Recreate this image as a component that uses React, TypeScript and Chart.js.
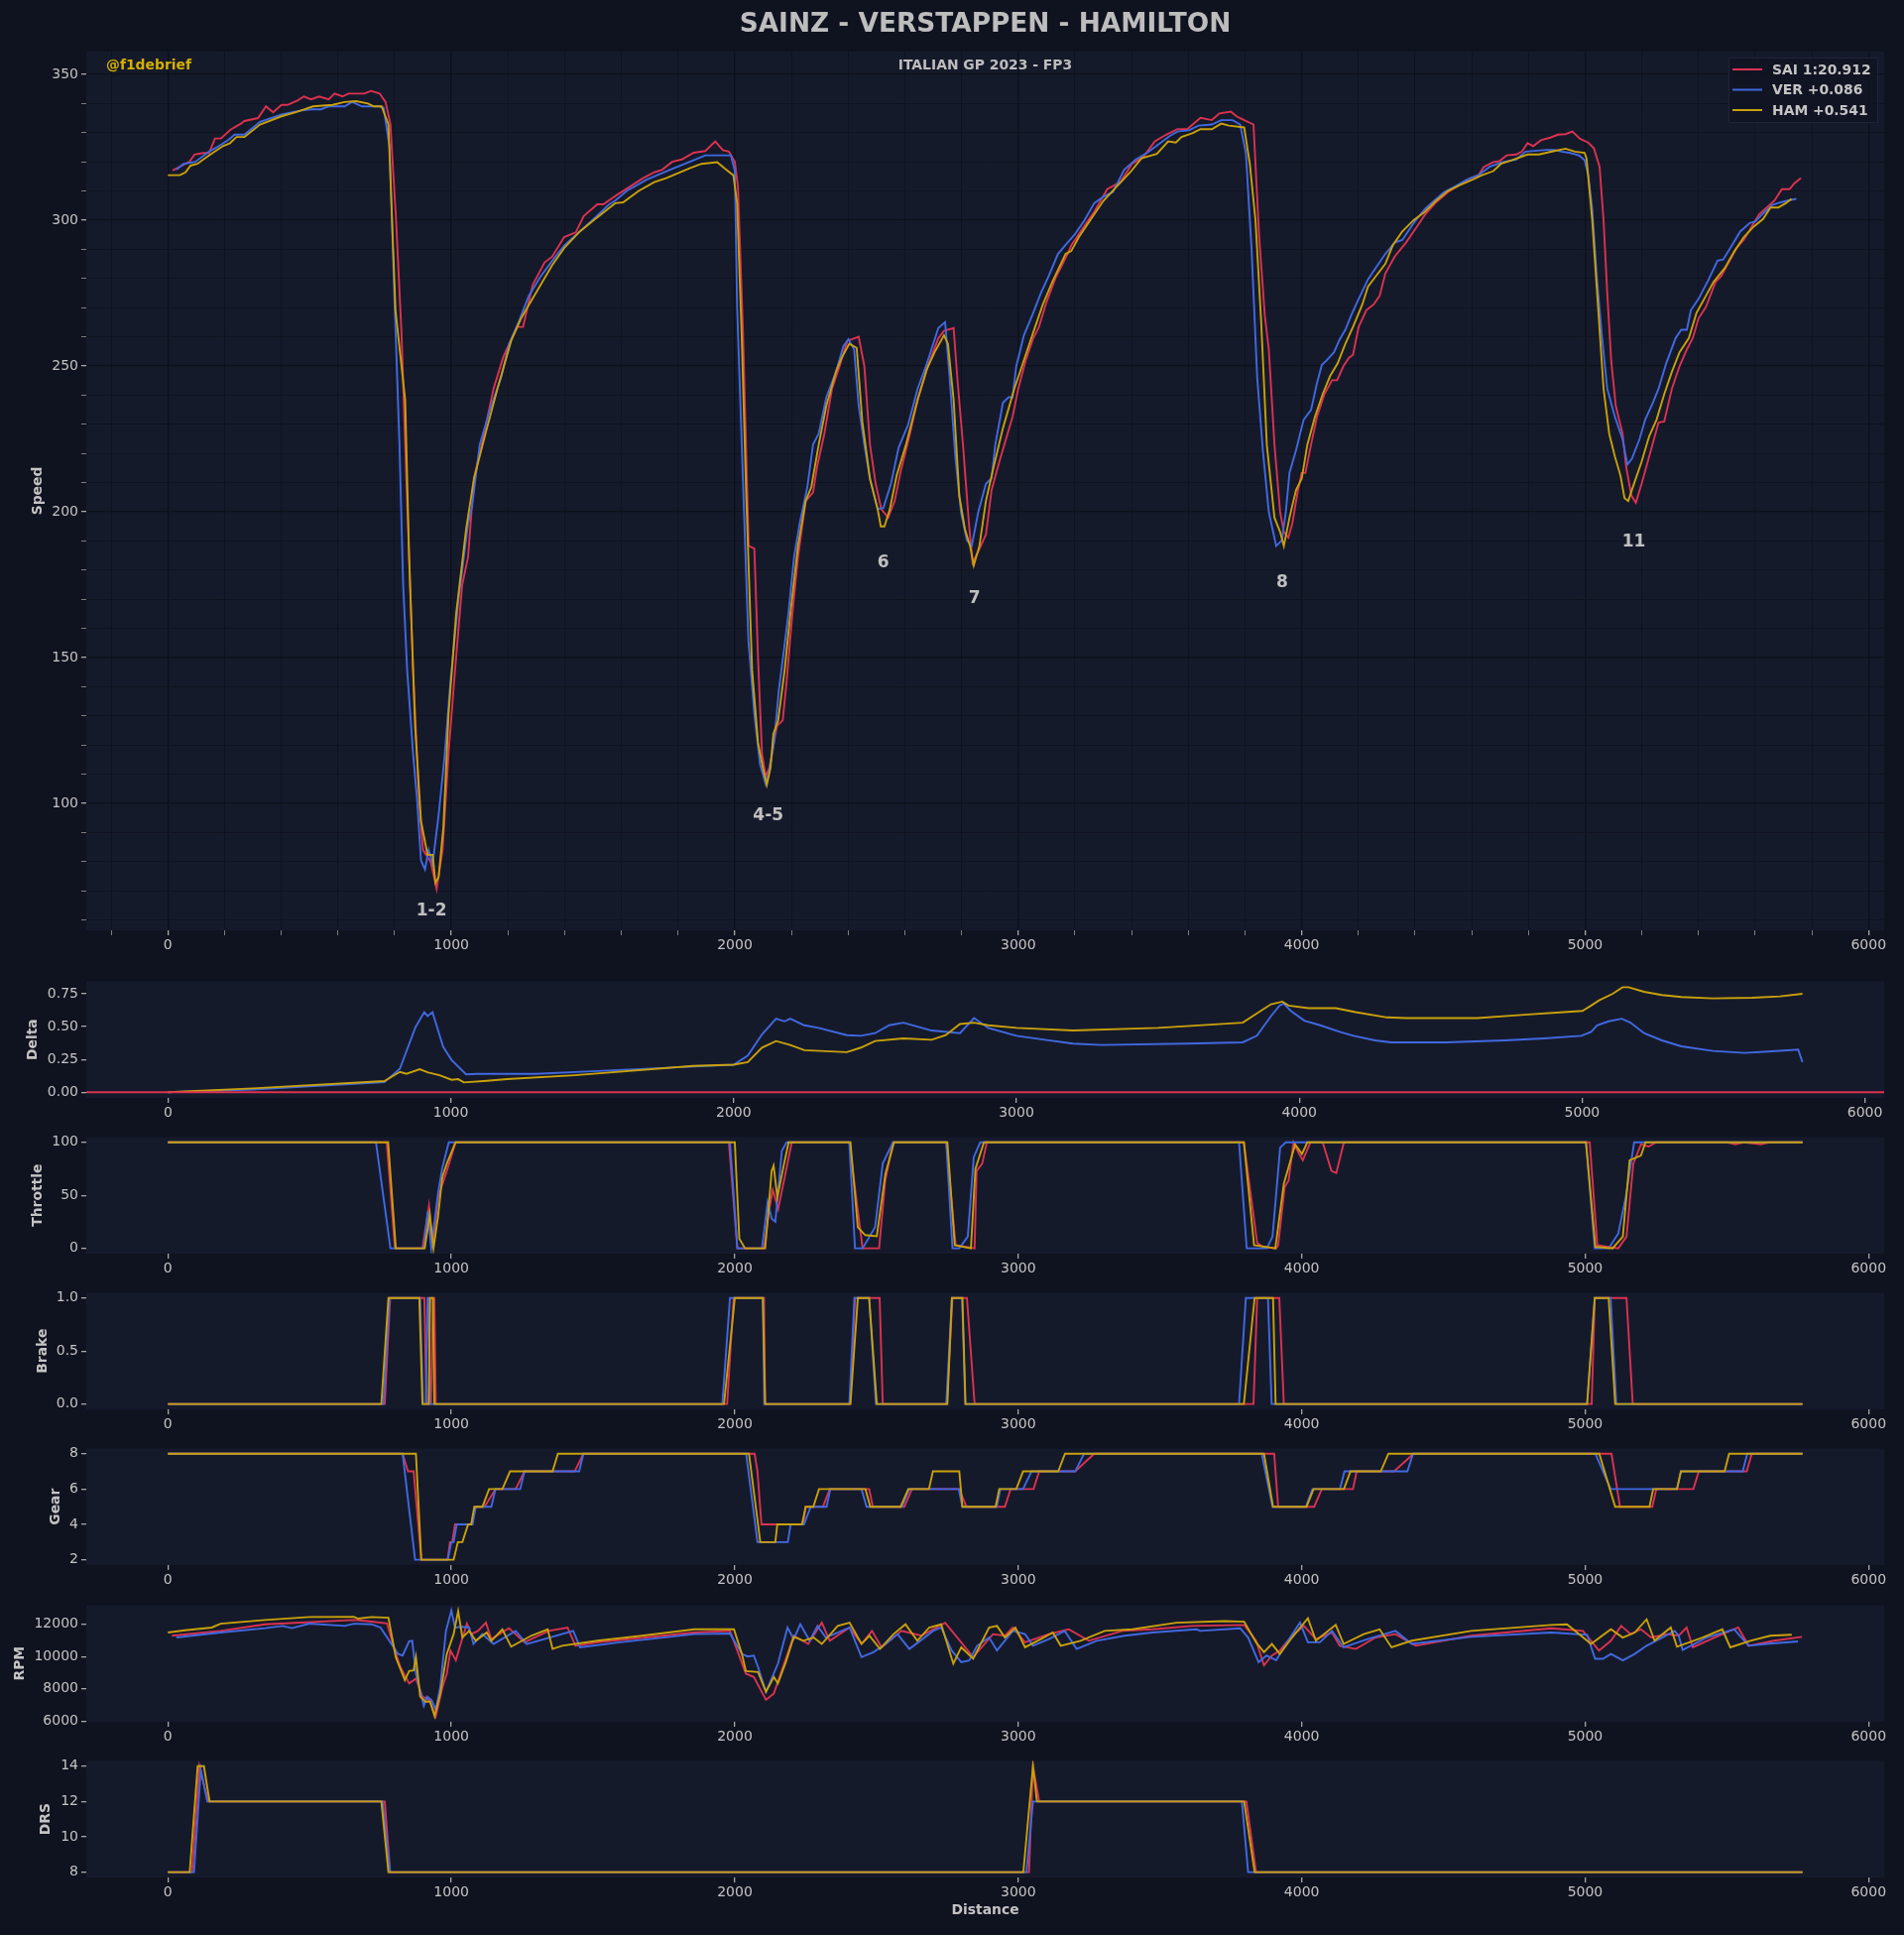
import React, { useEffect, useRef } from 'react';
import { Chart, registerables } from 'chart.js';

Chart.register(...registerables);

type Pt = [number, number];

// ---------------- data ----------------
const DRIVERS = ['SAI', 'VER', 'HAM'];
const LEGEND_LABELS = ['SAI 1:20.912', 'VER +0.086', 'HAM +0.541'];
const COLORS = ['#dc3250', '#4169e1', '#c9a10a'];

const CORNER_LABELS = ['1-2', '4-5', '6', '7', '8', '11'];
const CORNER_DIST = [930, 2118, 2524, 2846, 3931, 5172];
const CORNER_SPEED = [63, 95.8, 182.5, 170.3, 175.7, 189.6];

const X_MAJOR_TICKS = [0, 1000, 2000, 3000, 4000, 5000, 6000];
const SPEED_TICKS = [100, 150, 200, 250, 300, 350];
const DELTA_TICKS = [0, 0.25, 0.5, 0.75];
const THROTTLE_TICKS = [0, 50, 100];
const BRAKE_TICKS = [0, 0.5, 1];
const GEAR_TICKS = [2, 4, 6, 8];
const RPM_TICKS = [6000, 8000, 10000, 12000];
const DRS_TICKS = [8, 10, 12, 14];

const SAI_SPEED: Pt[] = [[17,317],[76,320],[94,322.5],[125,323],[145,323],[166,328],[187,328],[221,331],[256,333],[270,334],[318,335],[346,339],[371,337],[401,339.5],[422,339.5],[457,341],[480,342.4],[505,341.4],[533,342.4],[567,341.4],[588,343.4],[616,342.4],[637,343.4],[692,343.4],[717,344.3],[747,343.4],[768,340.5],[785,332.8],[805,300],[824,261.5],[844,203.6],[865,145.8],[886,101.5],[900,84],[927,80],[948,70.7],[969,84],[990,117],[1010,142],[1038,174.8],[1059,184.5],[1080,211.5],[1107,223],[1149,242.3],[1183,253],[1204,257.6],[1232,263.4],[1253,263.4],[1287,277.8],[1329,285.5],[1356,287.5],[1398,294.2],[1439,295.8],[1467,301.4],[1515,305.4],[1536,305.4],[1585,308.7],[1640,312.1],[1675,314.3],[1716,316.4],[1744,317.3],[1779,320],[1813,320.8],[1855,323.1],[1896,323.7],[1931,327],[1958,324],[1979,323.5],[2000,320],[2011,311.6],[2029,261.5],[2049,188.3],[2069,187.4],[2082,149.7],[2096,117],[2109,109.3],[2122,112.2],[2136,119.9],[2149,126.6],[2169,128.5],[2183,142],[2203,165],[2223,184.5],[2250,203.7],[2276,206.6],[2290,215.3],[2316,226.8],[2343,242.2],[2370,250],[2397,258.6],[2437,260],[2457,250],[2477,223],[2497,209.6],[2517,200.9],[2541,198],[2564,203.7],[2584,213.3],[2618,226.8],[2645,238.4],[2678,249],[2718,259.5],[2738,262],[2772,263],[2785,246],[2805,223],[2826,196],[2839,182.5],[2859,186.4],[2886,192.2],[2906,207.5],[2933,217.1],[2980,232.6],[3000,242.2],[3026,251.8],[3053,259.5],[3073,263.4],[3100,272],[3134,280.7],[3174,288.4],[3187,291.3],[3227,297.1],[3268,302.9],[3314,310.6],[3361,313.1],[3401,319.3],[3441,321.6],[3482,327],[3522,329.3],[3562,331.2],[3596,331.2],[3643,335.1],[3683,334.3],[3710,336.6],[3750,337.2],[3770,335.6],[3797,334.3],[3830,332.8],[3850,294.2],[3870,267.2],[3884,255.7],[3904,223],[3924,199.9],[3937,193.1],[3953,191.2],[3967,196],[3987,207.5],[4000,213.3],[4013,213.3],[4033,223],[4054,232.6],[4080,240.3],[4107,245.1],[4125,245.1],[4147,249.9],[4167,252.8],[4181,253.8],[4201,263.4],[4228,269.1],[4254,271.1],[4275,274],[4295,281.7],[4328,287.5],[4368,292.3],[4409,298.1],[4435,301.9],[4475,306.2],[4516,309.6],[4556,312.1],[4596,314.4],[4623,315.4],[4643,318.3],[4676,319.9],[4697,320.2],[4723,322.2],[4757,322.5],[4777,323.5],[4797,326.4],[4817,325.4],[4844,327.4],[4877,328.3],[4904,329.3],[4931,329.5],[4955,330.4],[4982,327.9],[5011,326.6],[5031,324.6],[5051,318.3],[5065,300],[5078,275],[5092,251.8],[5108,236.4],[5132,226.8],[5145,215.3],[5163,205.6],[5179,203.1],[5199,209.5],[5226,219],[5259,230.6],[5279,231],[5306,242.2],[5333,249.9],[5359,255.7],[5380,259.6],[5400,266.3],[5426,270.2],[5460,278.8],[5480,280.8],[5507,285.6],[5534,290.4],[5560,293.3],[5587,297.7],[5614,302],[5641,304.3],[5668,306.7],[5694,310.6],[5721,310.6],[5737,312.5],[5761,314.4]];

const VER_SPEED: Pt[] = [[30,317.3],[55,319.3],[97,320],[145,323.5],[173,325],[215,327.6],[235,329.3],[270,329.3],[325,333.7],[401,336.2],[464,337.5],[505,338],[540,338],[567,339],[623,339],[650,340.5],[685,339],[747,339],[761,338.5],[782,325],[800,271],[817,223],[830,174.8],[844,145.8],[865,117],[879,101.5],[893,80.4],[907,77.4],[920,84],[934,79.3],[955,96],[976,116],[997,142],[1024,169],[1059,196],[1073,201.8],[1100,223],[1135,234.6],[1176,246.3],[1204,257.6],[1239,265.4],[1273,274],[1315,280.7],[1356,286.1],[1398,291.3],[1453,296.1],[1509,301],[1557,305.4],[1578,306.7],[1619,310],[1689,313.9],[1772,317.3],[1841,320],[1896,322.2],[1986,322.2],[2000,317],[2008,271],[2028,213],[2048,155.8],[2069,130.7],[2089,113.4],[2109,106.6],[2122,111.5],[2139,121.2],[2155,138.5],[2175,153.9],[2189,165],[2209,184.4],[2229,196],[2256,208.5],[2276,223],[2296,226.8],[2323,239.3],[2357,248],[2383,256.7],[2401,259.2],[2421,255.7],[2437,236.4],[2457,223],[2477,211.3],[2504,200.9],[2524,201.3],[2551,209.6],[2578,222],[2611,229.7],[2645,242.2],[2678,250.9],[2718,263],[2742,265],[2758,246],[2778,219],[2798,199.9],[2819,190.2],[2836,188.3],[2859,199.9],[2886,209.6],[2906,211.5],[2919,223],[2946,237.4],[2966,239.3],[2980,239.3],[2993,249.9],[3020,260.5],[3053,268.2],[3080,275],[3107,280.7],[3140,288.4],[3174,292.3],[3200,295.2],[3234,300],[3268,305.8],[3301,308.1],[3334,309.6],[3374,317.3],[3415,320.8],[3455,323.1],[3495,326],[3535,328.9],[3562,330.4],[3602,330.8],[3636,332.4],[3683,332.8],[3716,334.3],[3756,334.3],[3783,332.8],[3803,323.1],[3823,290.4],[3843,246.1],[3863,221],[3884,199.9],[3910,188.3],[3930,190.2],[3944,199.9],[3957,213.4],[3980,221.1],[4007,231.6],[4033,234.9],[4054,244.1],[4071,250.3],[4087,251.8],[4114,254.7],[4134,259.1],[4154,262.4],[4174,267.2],[4201,273],[4234,279.7],[4261,283.6],[4295,288.4],[4328,292.3],[4355,293.2],[4395,299],[4435,303.8],[4462,306.2],[4502,309.6],[4542,311.6],[4583,313.9],[4623,315.4],[4663,318.3],[4703,319.7],[4757,320.8],[4790,323.5],[4864,324.1],[4891,324.1],[4917,323.5],[4944,323.1],[4978,322.2],[4998,320.6],[5011,315.4],[5025,303.8],[5041,280.7],[5058,261.5],[5078,242.2],[5105,232.6],[5132,224.9],[5149,216.2],[5165,218.2],[5192,224.9],[5212,231.6],[5239,237.4],[5259,242.2],[5286,250.9],[5319,259.5],[5339,262.4],[5359,262.4],[5373,269.1],[5400,273],[5433,279.1],[5467,286.1],[5487,286.5],[5514,290.7],[5547,296.1],[5581,299],[5601,299.6],[5628,302.3],[5661,305.2],[5694,306.2],[5715,306.7],[5745,307.3]];

const HAM_SPEED: Pt[] = [[0,315.4],[42,315.4],[62,316.4],[80,318.7],[104,319.3],[125,320.8],[159,323.1],[194,325.4],[219,326.4],[242,328.5],[270,328.5],[325,332.8],[401,335.6],[457,337.2],[512,339],[581,339.5],[623,340.5],[664,340.8],[706,340],[727,339],[754,339],[778,332.8],[803,269],[837,238.4],[851,184.5],[872,126.7],[893,93.9],[916,82.4],[934,82.4],[944,72.8],[955,74.7],[972,92],[990,130.5],[1017,165],[1052,194],[1080,211.5],[1121,227],[1163,242.3],[1211,258.6],[1246,266.3],[1280,272],[1315,277.8],[1356,284.6],[1398,290.4],[1453,296.1],[1509,300.5],[1578,305.8],[1606,306.1],[1661,310],[1716,313],[1758,314.4],[1841,317.8],[1882,319.3],[1938,319.9],[1965,317.7],[1995,315.4],[2008,305.8],[2024,261.5],[2041,203.6],[2061,145.8],[2082,120.8],[2099,112.2],[2113,106.4],[2126,112.2],[2136,123.8],[2153,128.5],[2176,145.8],[2196,165],[2223,188.3],[2250,203.7],[2270,208.5],[2296,223],[2323,236.4],[2357,248],[2377,252.8],[2404,257.6],[2430,256.2],[2450,230.8],[2477,211.3],[2504,200.9],[2515,195],[2528,195],[2547,200.9],[2571,212.4],[2604,223],[2645,238.4],[2678,249],[2705,254.7],[2738,260.5],[2752,257.6],[2772,238.4],[2792,205.6],[2812,194],[2830,188.3],[2843,181.6],[2863,188.3],[2886,203.7],[2913,215.3],[2946,228.7],[2986,242.2],[3013,249.9],[3053,261.5],[3087,271.1],[3120,278.8],[3167,288.4],[3187,289.4],[3214,294.2],[3254,300],[3301,306.7],[3348,311.6],[3395,316.4],[3435,321.2],[3489,322.7],[3529,327],[3556,326.6],[3576,328.5],[3616,329.9],[3643,331.2],[3683,331.2],[3716,333.1],[3743,332.4],[3797,331.8],[3817,319.3],[3837,300],[3857,265.3],[3877,223],[3904,198],[3924,193.1],[3937,188.3],[3957,198],[3980,207.5],[4000,211.3],[4020,223],[4047,232.6],[4074,240.3],[4100,246.5],[4127,250.9],[4154,257.6],[4181,263.4],[4214,271.1],[4234,277.2],[4261,280.7],[4295,285],[4321,291.3],[4355,296.1],[4395,300],[4435,302.9],[4475,306.7],[4516,310],[4556,311.9],[4603,313.9],[4636,315.4],[4676,316.8],[4703,319.3],[4743,320.6],[4797,322.5],[4837,322.5],[4891,323.7],[4931,324.5],[4964,323.5],[4998,323.1],[5005,321.2],[5025,300],[5045,271.1],[5065,242.2],[5085,226.8],[5105,219],[5125,212.3],[5139,204.7],[5152,203.7],[5172,209.5],[5199,217.1],[5226,225.9],[5252,231.6],[5279,240.3],[5306,248],[5333,254.7],[5366,259.6],[5393,268.2],[5426,274],[5453,278.8],[5493,283.6],[5527,289.4],[5560,294.2],[5594,297.7],[5628,300.4],[5654,304.3],[5681,304.3],[5708,305.8],[5728,307.3]];

const DELTA_RANGE = [-289, 6068];
const SAI_DELTA: Pt[] = [[DELTA_RANGE[0], 0], [DELTA_RANGE[1], 0]];
const VER_DELTA: Pt[] = [[0,0],[300,0.02],[765,0.077],[820,0.18],[875,0.495],[906,0.61],[918,0.58],[935,0.61],[973,0.345],[1003,0.245],[1054,0.137],[1093,0.14],[1300,0.14],[1500,0.16],[1800,0.19],[2000,0.21],[2050,0.28],[2100,0.44],[2150,0.56],[2180,0.54],[2200,0.56],[2250,0.51],[2300,0.49],[2400,0.435],[2450,0.43],[2500,0.45],[2550,0.51],[2600,0.53],[2650,0.5],[2700,0.47],[2800,0.45],[2850,0.565],[2900,0.49],[3000,0.43],[3100,0.4],[3200,0.37],[3300,0.36],[3600,0.37],[3800,0.38],[3850,0.43],[3900,0.58],[3930,0.66],[3945,0.675],[3970,0.62],[4018,0.545],[4074,0.51],[4143,0.46],[4192,0.43],[4268,0.395],[4324,0.38],[4518,0.38],[4726,0.395],[4865,0.41],[4997,0.43],[5032,0.46],[5053,0.51],[5094,0.54],[5140,0.56],[5171,0.53],[5219,0.45],[5282,0.395],[5351,0.35],[5462,0.315],[5574,0.3],[5657,0.31],[5764,0.325],[5779,0.23]];
const HAM_DELTA: Pt[] = [[0,0],[300,0.03],[765,0.085],[820,0.155],[843,0.14],[890,0.175],[920,0.15],[960,0.13],[1003,0.095],[1026,0.1],[1046,0.075],[1116,0.085],[1200,0.1],[1438,0.13],[1856,0.2],[2000,0.21],[2050,0.23],[2100,0.34],[2150,0.39],[2200,0.36],[2250,0.32],[2400,0.305],[2450,0.34],[2500,0.39],[2600,0.41],[2700,0.4],[2750,0.435],[2800,0.52],[2850,0.53],[2900,0.51],[3000,0.49],[3200,0.47],[3500,0.49],[3800,0.53],[3900,0.67],[3940,0.69],[3962,0.66],[4032,0.64],[4129,0.64],[4199,0.61],[4310,0.57],[4379,0.565],[4629,0.565],[4796,0.59],[4935,0.61],[5001,0.62],[5032,0.66],[5060,0.7],[5108,0.75],[5143,0.8],[5164,0.8],[5219,0.765],[5282,0.74],[5351,0.725],[5462,0.715],[5601,0.72],[5699,0.73],[5779,0.75]];

const SAI_THROTTLE: Pt[] = [[0,100],[772,100],[801,0],[898,0],[921,40],[934,0],[953,48],[984,73],[1015,100],[1979,100],[2009,0],[2103,0],[2123,39],[2134,55],[2153,37],[2201,100],[2404,100],[2431,42],[2451,0],[2509,0],[2531,64],[2558,100],[2746,100],[2779,3],[2846,0],[2853,73],[2873,80],[2889,100],[3796,100],[3843,5],[3863,1.5],[3910,0],[3917,3],[3940,58],[3954,64],[3971,100],[3991,89],[4004,83],[4031,100],[4074,100],[4105,73],[4122,71],[4149,100],[5016,100],[5043,3],[5117,0],[5146,11],[5170,80],[5197,98],[5224,96],[5251,100],[5500,100],[5530,98],[5560,100],[5620,98],[5650,100],[5767,100]];
const VER_THROTTLE: Pt[] = [[0,100],[734,100],[785,0],[903,0],[917,35],[929,0],[953,52],[968,76],[991,100],[1983,100],[2009,0],[2096,0],[2116,44],[2130,28],[2143,25],[2166,92],[2183,100],[2404,100],[2424,0],[2451,0],[2495,20],[2522,80],[2558,100],[2746,100],[2768,0],[2792,0],[2822,11],[2843,86],[2866,100],[3779,100],[3806,0],[3877,0],[3897,11],[3924,95],[3944,100],[5003,100],[5034,0],[5083,0],[5117,14],[5143,48],[5173,100],[5767,100]];
const HAM_THROTTLE: Pt[] = [[0,100],[777,100],[804,0],[906,0],[924,32],[937,0],[953,30],[968,67],[984,80],[1015,100],[2000,100],[2016,9],[2036,0],[2107,0],[2116,27],[2130,73],[2137,78],[2150,48],[2174,80],[2190,100],[2408,100],[2434,20],[2460,12.5],[2501,11.5],[2531,70],[2562,100],[2750,100],[2776,3],[2833,0],[2849,75],[2879,100],[3796,100],[3832,3],[3907,0],[3937,61],[3977,98],[4001,89],[4020,100],[5003,100],[5036,1.5],[5097,0],[5133,11],[5157,83],[5197,87.5],[5213,100],[5767,100]];

const SAI_BRAKE: Pt[] = [[0,0],[765,0],[784,1],[905,1],[912,0],[928,0],[935,1],[940,1],[945,0],[1973,0],[1996,1],[2103,1],[2107,0],[2407,0],[2424,1],[2511,1],[2522,0],[2748,0],[2768,1],[2819,1],[2846,0],[3830,0],[3843,1],[3921,1],[3937,0],[5023,0],[5034,1],[5146,1],[5168,0],[5767,0]];
const VER_BRAKE: Pt[] = [[0,0],[760,0],[782,1],[890,1],[900,0],[910,0],[916,1],[920,1],[924,0],[1956,0],[1983,1],[2099,1],[2104,0],[2404,0],[2422,1],[2474,1],[2498,0],[2746,0],[2766,1],[2802,1],[2813,0],[3779,0],[3803,1],[3881,1],[3894,0],[5007,0],[5034,1],[5090,1],[5110,0],[5767,0]];
const HAM_BRAKE: Pt[] = [[0,0],[753,0],[778,1],[887,1],[898,0],[920,0],[925,1],[935,1],[940,0],[1962,0],[2000,1],[2099,1],[2107,0],[2408,0],[2434,1],[2474,1],[2501,0],[2750,0],[2766,1],[2803,1],[2814,0],[3796,0],[3834,1],[3899,1],[3908,0],[5007,0],[5034,1],[5083,1],[5106,0],[5767,0]];

const SAI_GEAR: Pt[] = [[0,8],[828,8],[847,7],[867,7],[894,2],[987,2],[995,3],[1003,3],[1013,4],[1070,4],[1086,5],[1117,5],[1156,6],[1227,6],[1258,7],[1435,7],[1466,8],[2070,8],[2080,7],[2094,4],[2241,4],[2250,5],[2311,5],[2335,6],[2474,6],[2487,5],[2598,5],[2625,6],[2792,6],[2817,5],[2953,5],[2973,6],[3054,6],[3074,7],[3201,7],[3268,8],[3903,8],[3917,5],[4044,5],[4071,6],[4181,6],[4194,7],[4326,7],[4395,8],[5093,8],[5123,5],[5237,5],[5251,6],[5382,6],[5401,7],[5570,7],[5588,8],[5767,8]];
const VER_GEAR: Pt[] = [[0,8],[828,8],[872,2],[987,2],[1000,3],[1008,3],[1019,4],[1075,4],[1086,5],[1141,5],[1156,6],[1243,6],[1258,7],[1451,7],[1466,8],[2040,8],[2080,3],[2187,3],[2197,4],[2244,4],[2268,5],[2324,5],[2337,6],[2447,6],[2465,5],[2589,5],[2616,6],[2790,6],[2803,5],[2924,5],[2937,6],[3017,6],[3047,7],[3201,7],[3232,8],[3859,8],[3897,5],[4015,5],[4038,6],[4135,6],[4151,7],[4373,7],[4393,8],[5036,8],[5090,6],[5324,6],[5338,7],[5556,7],[5572,8],[5767,8]];
const HAM_GEAR: Pt[] = [[0,8],[875,8],[894,2],[1008,2],[1023,3],[1039,3],[1059,4],[1070,4],[1081,5],[1110,5],[1133,6],[1180,6],[1207,7],[1357,7],[1376,8],[2050,8],[2090,3],[2143,3],[2150,4],[2237,4],[2250,5],[2277,5],[2297,6],[2461,6],[2478,5],[2585,5],[2612,6],[2685,6],[2699,7],[2792,7],[2803,5],[2920,5],[2933,6],[2993,6],[3017,7],[3141,7],[3165,8],[3867,8],[3899,5],[4017,5],[4042,6],[4149,6],[4172,7],[4279,7],[4306,8],[5050,8],[5106,5],[5227,5],[5240,6],[5324,6],[5338,7],[5492,7],[5508,8],[5767,8]];

const SAI_RPM: Pt[] = [[14,11290],[186,11590],[343,12000],[656,12265],[703,12200],[773,12060],[797,10570],[820,9350],[851,8330],[875,8630],[898,7510],[922,7300],[945,6290],[969,8120],[984,8940],[997,10370],[1016,9760],[1031,10670],[1055,12040],[1070,11390],[1094,11590],[1122,12100],[1141,11080],[1203,11760],[1258,10880],[1344,11590],[1410,11800],[1438,10670],[1516,10880],[1858,11490],[1983,11590],[2039,8940],[2067,8730],[2110,7310],[2138,7710],[2194,10570],[2208,11290],[2259,10780],[2307,12100],[2335,10980],[2405,11800],[2447,10780],[2484,11590],[2518,10570],[2588,11590],[2658,11290],[2742,12100],[2785,11180],[2841,9960],[2911,11390],[2953,11290],[2981,11800],[3024,10880],[3108,11390],[3178,11690],[3249,10980],[3367,11590],[3473,11690],[3614,11900],[3797,11960],[3839,10980],[3867,9450],[3895,10060],[3923,10370],[3966,11290],[4008,11900],[4050,11080],[4107,11490],[4134,10670],[4191,10470],[4261,11180],[4331,11390],[4402,10670],[4598,11290],[4880,11755],[4992,11590],[5049,10370],[5091,10980],[5127,11900],[5161,11390],[5197,11690],[5233,11180],[5288,11390],[5330,11290],[5358,11800],[5380,10570],[5470,11290],[5540,11800],[5577,10670],[5667,10980],[5765,11220]];
const VER_RPM: Pt[] = [[30,11180],[186,11490],[343,11760],[405,11900],[437,11760],[499,12040],[624,11900],[656,12040],[718,12000],[750,11800],[781,10980],[812,10160],[828,10060],[851,10940],[862,10980],[875,8940],[903,6940],[914,7510],[930,7300],[945,6690],[961,8120],[981,11590],[1000,12860],[1013,11800],[1039,11840],[1063,11800],[1078,10780],[1109,11390],[1149,10780],[1227,11590],[1266,10780],[1430,11590],[1454,10570],[1595,10880],[1858,11390],[1983,11430],[2025,10160],[2045,10000],[2067,10060],[2082,9350],[2110,7810],[2152,9550],[2186,11800],[2208,11080],[2231,12000],[2264,10980],[2292,11900],[2321,11180],[2363,11490],[2405,11800],[2447,9960],[2489,10270],[2532,10780],[2574,11390],[2616,10470],[2700,11590],[2728,11800],[2765,10370],[2799,9650],[2827,9760],[2855,10670],[2897,11180],[2925,10370],[2981,11590],[3024,11390],[3052,10670],[3108,11080],[3164,11590],[3206,10470],[3277,10980],[3375,11290],[3473,11490],[3628,11690],[3642,11590],[3783,11755],[3811,11180],[3848,9650],[3876,10060],[3910,9760],[3952,10980],[3994,12100],[4022,10880],[4064,10880],[4107,11590],[4148,10570],[4233,11080],[4331,11590],[4388,10780],[4598,11220],[4880,11490],[5007,11350],[5035,9860],[5063,9860],[5091,10160],[5133,9760],[5175,10160],[5217,10670],[5316,11590],[5330,11290],[5344,10410],[5428,11180],[5526,11690],[5577,10670],[5639,10780],[5751,10940]];
const HAM_RPM: Pt[] = [[0,11490],[61,11630],[155,11800],[186,12040],[343,12265],[499,12450],[656,12470],[671,12350],[718,12450],[778,12410],[804,9960],[836,8530],[851,9100],[867,9140],[875,9960],[890,7510],[909,7200],[925,7200],[941,6290],[961,7710],[984,10160],[1008,11390],[1024,12820],[1039,11180],[1063,11590],[1086,10980],[1125,11490],[1141,10980],[1180,11690],[1211,10610],[1282,11290],[1340,11690],[1357,10470],[1391,10670],[1516,10980],[1673,11290],[1858,11690],[1997,11690],[2025,10160],[2039,9100],[2082,9040],[2110,7810],[2138,8730],[2152,8330],[2180,9650],[2208,11220],[2242,10980],[2278,11180],[2307,10780],[2363,11900],[2405,12100],[2447,10780],[2475,11290],[2512,10470],[2560,11390],[2602,12000],[2644,10980],[2686,11800],[2728,12000],[2771,9550],[2799,10570],[2841,9860],[2897,11800],[2925,11900],[2953,11180],[2990,11800],[3024,10570],[3080,11080],[3122,11490],[3150,10670],[3220,10980],[3305,11590],[3403,11690],[3558,12100],[3727,12200],[3797,12160],[3839,10880],[3867,10270],[3895,10780],[3923,10160],[3966,11180],[4022,12370],[4050,10980],[4120,11960],[4148,10780],[4219,11390],[4275,11690],[4317,10570],[4388,10980],[4598,11590],[4880,11960],[4936,12000],[5021,10780],[5091,11690],[5133,11180],[5175,11490],[5217,12310],[5245,10980],[5302,11800],[5324,10610],[5414,11180],[5484,11690],[5512,10570],[5583,10980],[5653,11290],[5729,11350]];

const SAI_DRS: Pt[] = [[0,8],[85,8],[111,14],[142,12],[765,12],[784,8],[3038,8],[3052,14],[3074,12],[3805,12],[3839,8],[5767,8]];
const VER_DRS: Pt[] = [[0,8],[92,8],[116,13.8],[139,12],[757,12],[784,8],[3029,8],[3052,12],[3789,12],[3811,8],[5767,8]];
const HAM_DRS: Pt[] = [[0,8],[77,8],[105,14],[127,14],[147,12],[753,12],[778,8],[3018,8],[3052,14],[3066,12],[3797,12],[3834,8],[5767,8]];

const X_RANGE = [-288, 6055];

// minor tick positions of the speed panel (x every 200 m, y every 10 km/h)
const X_MINOR_TICKS: number[] = [];
for (let v = -200; v <= 6000; v += 200) X_MINOR_TICKS.push(v);
const SPEED_MINOR_TICKS: number[] = [];
for (let v = 60; v <= 350; v += 10) SPEED_MINOR_TICKS.push(v);

// ---------------- styles ----------------
const PAGE_BG = '#0f121f';
const PLOT_BG = '#151a2b';
const TEXT = '#c4c4c4';
const TICK = '#a8a8a8';
const FONT = "'DejaVu Sans', 'Noto Sans', sans-serif";

Chart.defaults.font.family = FONT;

const bgPlugin = {
  id: 'plotBg',
  beforeDraw(chart: any) {
    const { ctx, chartArea: a } = chart;
    ctx.save();
    ctx.fillStyle = PLOT_BG;
    ctx.fillRect(a.left, a.top, a.right - a.left, a.bottom - a.top);
    ctx.restore();
  },
};

const speedTextPlugin = {
  id: 'speedText',
  afterDatasetsDraw(chart: any) {
    const { ctx, chartArea: a, scales } = chart;
    ctx.save();
    // corner labels
    ctx.font = `bold 17px ${FONT}`;
    ctx.fillStyle = '#c0c0c0';
    ctx.textAlign = 'center';
    ctx.textBaseline = 'middle';
    CORNER_LABELS.forEach((t, i) => {
      ctx.fillText(t, scales.x.getPixelForValue(CORNER_DIST[i]), scales.y.getPixelForValue(CORNER_SPEED[i]));
    });
    // watermark + session
    ctx.font = `bold 13.9px ${FONT}`;
    ctx.fillStyle = '#d6b000';
    ctx.textAlign = 'left';
    ctx.fillText('@f1debrief', a.left + 20, a.top + 14);
    ctx.fillStyle = '#bdbdbd';
    ctx.textAlign = 'center';
    ctx.fillText('ITALIAN GP 2023 - FP3', (a.left + a.right) / 2, a.top + 14);
    // legend
    const bw = 150, bh = 65;
    const bx = a.right - 7 - bw, by = a.top + 6;
    ctx.fillStyle = 'rgba(17,20,34,0.85)';
    ctx.strokeStyle = '#20243a';
    ctx.lineWidth = 1;
    ctx.beginPath();
    ctx.rect(bx + 0.5, by + 0.5, bw, bh);
    ctx.fill();
    ctx.stroke();
    ctx.font = `bold 13.9px ${FONT}`;
    ctx.textAlign = 'left';
    LEGEND_LABELS.forEach((t, i) => {
      const y = by + 12 + i * 20.5;
      ctx.strokeStyle = COLORS[i];
      ctx.lineWidth = 2;
      ctx.beginPath();
      ctx.moveTo(bx + 4, y);
      ctx.lineTo(bx + 34, y);
      ctx.stroke();
      ctx.fillStyle = TEXT;
      ctx.fillText(t, bx + 44, y + 1);
    });
    ctx.restore();
  },
};

function ds(data: Pt[], i: number, order?: number) {
  return {
    label: DRIVERS[i],
    data: data.map(([x, y]) => ({ x, y })),
    borderColor: COLORS[i],
    backgroundColor: COLORS[i],
    borderWidth: 1.9,
    pointRadius: 0,
    tension: 0,
    fill: false,
    order: order !== undefined ? order : 2 - i,
  };
}

type PanelOpts = {
  yMin: number; yMax: number; yTicks: number[]; yLabelTicks: number[]; yFmt: (v: number) => string;
  yTitle: string; yTitlePad: number; xRange: number[]; xAxisH: number;
  padTop: number; minor?: boolean; xTitle?: boolean; title?: string;
};

function buildOptions(o: PanelOpts): any {
  const isMajorX = (v: number) => X_MAJOR_TICKS.indexOf(v) >= 0;
  const isMajorY = (v: number) => o.yLabelTicks.indexOf(v) >= 0;
  return {
    responsive: false,
    animation: false,
    events: [],
    layout: { padding: { top: o.padTop, right: 20, left: 0, bottom: 0 } },
    plugins: {
      legend: { display: false },
      tooltip: { enabled: false },
      title: o.title
        ? {
            display: true,
            text: o.title,
            color: '#bdbdbd',
            fullSize: false,
            font: { size: 26.4, weight: 'bold', family: FONT },
            padding: { top: 9, bottom: 11.3 },
          }
        : { display: false },
    },
    scales: {
      x: {
        type: 'linear',
        min: o.xRange[0],
        max: o.xRange[1],
        afterFit: (s: any) => { s.height = o.xAxisH; },
        afterBuildTicks: (s: any) => {
          s.ticks = (o.minor ? X_MINOR_TICKS : X_MAJOR_TICKS).map((v) => ({ value: v }));
        },
        border: { display: false },
        grid: {
          drawOnChartArea: !!o.minor,
          color: (c: any) => (c.tick && isMajorX(c.tick.value) ? '#0d101a' : '#10131f'),
          lineWidth: (c: any) => (c.tick && isMajorX(c.tick.value) ? 1.3 : 1),
          tickColor: (c: any) => (c.tick && isMajorX(c.tick.value) ? TICK : '#7d7d7d'),
          tickLength: 5,
          drawTicks: true,
        },
        ticks: {
          autoSkip: false,
          maxRotation: 0,
          minRotation: 0,
          padding: 2,
          color: TEXT,
          font: { size: 14, family: FONT },
          callback: (v: any) => (isMajorX(Number(v)) ? String(Number(v)) : ''),
        },
        title: o.xTitle
          ? { display: true, text: 'Distance', color: TEXT, font: { size: 13.9, weight: 'bold', family: FONT }, padding: { top: 0, bottom: 16.7 } }
          : { display: false },
      },
      y: {
        type: 'linear',
        min: o.yMin,
        max: o.yMax,
        afterFit: (s: any) => { s.width = 87; },
        afterBuildTicks: (s: any) => {
          s.ticks = o.yTicks.map((v) => ({ value: v }));
        },
        border: { display: false },
        grid: {
          drawOnChartArea: !!o.minor,
          color: (c: any) => (c.tick && isMajorY(c.tick.value) ? '#0d101a' : '#10131f'),
          lineWidth: (c: any) => (c.tick && isMajorY(c.tick.value) ? 1.3 : 1),
          tickColor: (c: any) => (c.tick && isMajorY(c.tick.value) ? TICK : '#7d7d7d'),
          tickLength: 5,
          drawTicks: true,
        },
        ticks: {
          autoSkip: false,
          padding: 3,
          color: TEXT,
          font: { size: 14, family: FONT },
          callback: (v: any) => (isMajorY(Number(v)) ? o.yFmt(Number(v)) : ''),
        },
        title: {
          display: true,
          text: o.yTitle,
          color: TEXT,
          font: { size: 13.9, weight: 'bold', family: FONT },
          padding: { top: o.yTitlePad, bottom: 0 },
        },
      },
    },
  };
}

type PanelDef = {
  key: string; top: number; height: number;
  datasets: any[]; opts: PanelOpts; plugins: any[];
};

const SMALL_H = 119;
const smallTop = (plotTop: number) => plotTop - 10;
const intFmt = (v: number) => String(Math.round(v));

const PANELS: PanelDef[] = [
  {
    key: 'speed', top: 0, height: 978,
    datasets: [ds(SAI_SPEED, 0), ds(VER_SPEED, 1), ds(HAM_SPEED, 2)],
    opts: {
      yMin: 56.5, yMax: 357.8, yTicks: SPEED_MINOR_TICKS, yLabelTicks: SPEED_TICKS, yFmt: intFmt,
      yTitle: 'Speed', yTitlePad: 30.3, xRange: X_RANGE, xAxisH: 40, padTop: 0,
      minor: true, title: 'SAINZ - VERSTAPPEN - HAMILTON',
    },
    plugins: [bgPlugin, speedTextPlugin],
  },
  {
    key: 'delta', top: smallTop(988), height: 10 + SMALL_H + 38,
    datasets: [ds(SAI_DELTA, 0, -1), ds(VER_DELTA, 1), ds(HAM_DELTA, 2)],
    opts: { yMin: -0.043, yMax: 0.845, yTicks: DELTA_TICKS, yLabelTicks: DELTA_TICKS, yFmt: (v) => v.toFixed(2), yTitle: 'Delta', yTitlePad: 25.2, xRange: DELTA_RANGE, xAxisH: 38, padTop: 10 },
    plugins: [bgPlugin],
  },
  {
    key: 'throttle', top: smallTop(1145), height: 10 + SMALL_H + 38,
    datasets: [ds(SAI_THROTTLE, 0), ds(VER_THROTTLE, 1), ds(HAM_THROTTLE, 2)],
    opts: { yMin: -5, yMax: 105, yTicks: THROTTLE_TICKS, yLabelTicks: THROTTLE_TICKS, yFmt: intFmt, yTitle: 'Throttle', yTitlePad: 30.3, xRange: X_RANGE, xAxisH: 38, padTop: 10 },
    plugins: [bgPlugin],
  },
  {
    key: 'brake', top: smallTop(1302), height: 10 + SMALL_H + 38,
    datasets: [ds(SAI_BRAKE, 0), ds(VER_BRAKE, 1), ds(HAM_BRAKE, 2)],
    opts: { yMin: -0.05, yMax: 1.05, yTicks: BRAKE_TICKS, yLabelTicks: BRAKE_TICKS, yFmt: (v) => v.toFixed(1), yTitle: 'Brake', yTitlePad: 35.2, xRange: X_RANGE, xAxisH: 38, padTop: 10 },
    plugins: [bgPlugin],
  },
  {
    key: 'gear', top: smallTop(1459), height: 10 + SMALL_H + 38,
    datasets: [ds(SAI_GEAR, 0), ds(VER_GEAR, 1), ds(HAM_GEAR, 2)],
    opts: { yMin: 1.7, yMax: 8.3, yTicks: GEAR_TICKS, yLabelTicks: GEAR_TICKS, yFmt: intFmt, yTitle: 'Gear', yTitlePad: 47.7, xRange: X_RANGE, xAxisH: 38, padTop: 10 },
    plugins: [bgPlugin],
  },
  {
    key: 'rpm', top: smallTop(1617), height: 10 + SMALL_H + 38,
    datasets: [ds(SAI_RPM, 0), ds(VER_RPM, 1), ds(HAM_RPM, 2)],
    opts: { yMin: 5950, yMax: 13190, yTicks: RPM_TICKS, yLabelTicks: RPM_TICKS, yFmt: intFmt, yTitle: 'RPM', yTitlePad: 12.5, xRange: X_RANGE, xAxisH: 38, padTop: 10 },
    plugins: [bgPlugin],
  },
  {
    key: 'drs', top: smallTop(1774), height: 1951 - smallTop(1774),
    datasets: [ds(SAI_DRS, 0), ds(VER_DRS, 1), ds(HAM_DRS, 2)],
    opts: { yMin: 7.7, yMax: 14.3, yTicks: DRS_TICKS, yLabelTicks: DRS_TICKS, yFmt: intFmt, yTitle: 'DRS', yTitlePad: 38.5, xRange: X_RANGE, xAxisH: 1951 - smallTop(1774) - 10 - SMALL_H, padTop: 10, xTitle: true },
    plugins: [bgPlugin],
  },
];

function Panel({ def }: { def: PanelDef }) {
  const ref = useRef<HTMLCanvasElement>(null);
  useEffect(() => {
    if (!ref.current) return;
    const chart = new Chart(ref.current, {
      type: 'line',
      data: { datasets: def.datasets },
      options: buildOptions(def.opts),
      plugins: def.plugins,
    } as any);
    return () => chart.destroy();
  }, [def]);
  return (
    <canvas
      ref={ref}
      width={1920}
      height={def.height}
      style={{ position: 'absolute', left: 0, top: def.top, width: 1920, height: def.height, display: 'block' }}
    />
  );
}

export default function App() {
  return (
    <div
      style={{
        position: 'absolute',
        left: 0,
        top: 0,
        width: 1920,
        height: 1951,
        background: PAGE_BG,
        overflow: 'hidden',
      }}
    >
      {PANELS.map((p) => (
        <Panel key={p.key} def={p} />
      ))}
    </div>
  );
}
